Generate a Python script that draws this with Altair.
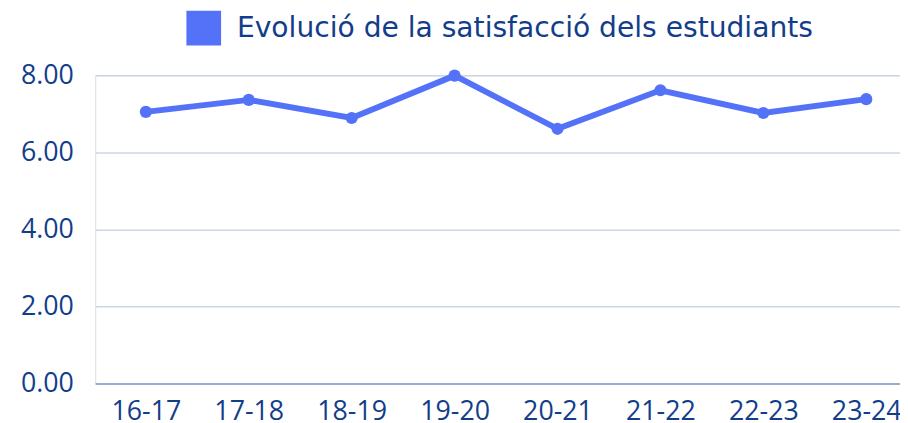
import altair as alt
import pandas as pd

years = ["16-17", "17-18", "18-19", "19-20", "20-21", "21-22", "22-23", "23-24"]
values = [7.05, 7.36, 6.89, 7.99, 6.61, 7.61, 7.02, 7.38]
series_name = "Evolució de la satisfacció dels estudiants"

df = pd.DataFrame({"curs": years, "valor": values, "serie": [series_name] * len(years)})

FONT = "Open Sans"
NAVY = "#123d8a"
BLUE = "#5472f7"

x = alt.X("curs:N", sort=years, title=None,
          scale=alt.Scale(type="point", padding=0.41, align=0.6),
          axis=alt.Axis(labelAngle=0, ticks=False, domain=True, domainColor="#97aed0",
                        domainWidth=2, labelPadding=15, labelFontSize=27,
                        labelColor=NAVY, labelFont=FONT, grid=False, gridOpacity=0))
y = alt.Y("valor:Q", title=None,
          scale=alt.Scale(domain=[0, 8], nice=False),
          axis=alt.Axis(values=[0, 2, 4, 6, 8], format=".2f", ticks=False, domain=False,
                        domainOpacity=0, gridColor="#ccd6e4", gridWidth=1.5, labelPadding=22,
                        labelFontSize=27, labelColor=NAVY, labelFont=FONT))
color = alt.Color("serie:N", scale=alt.Scale(range=[BLUE]),
                  legend=alt.Legend(title=None, orient="none", legendX=92, legendY=-65,
                                    symbolType="square", symbolSize=1225, symbolStrokeWidth=0,
                                    symbolOpacity=1, labelFontSize=28.4, labelColor=NAVY,
                                    labelFont="DejaVu Sans", labelLimit=800, padding=0,
                                    labelOffset=16))

line = alt.Chart(df).mark_line(strokeWidth=6).encode(x=x, y=y, color=color)
pts = alt.Chart(df).mark_point(filled=True, size=150, opacity=1).encode(x=x, y=y, color=color)

chart = (line + pts).properties(
    width=812, height=311,
    autosize=alt.AutoSizeParams(type="none"),
    padding={"left": 88, "top": 66, "right": 0, "bottom": 38},
).configure_view(stroke="transparent", strokeWidth=0, strokeOpacity=0).configure_axisY(
    domain=False
).configure_axisX(grid=False).configure(background="white")

chart.save("out.html", embed_options={"renderer": "svg", "actions": False})
